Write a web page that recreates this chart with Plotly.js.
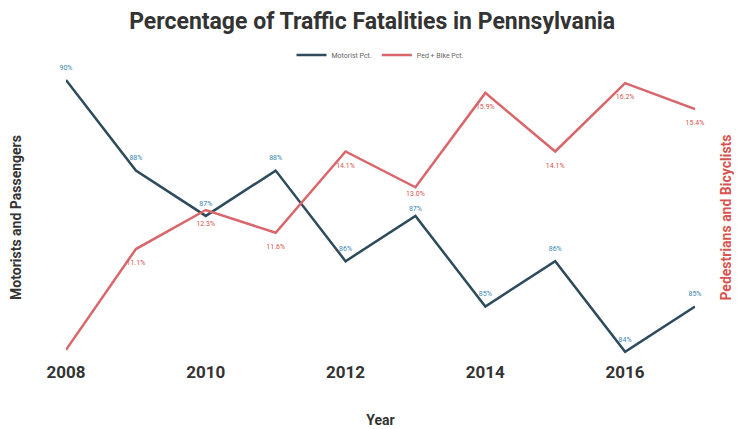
<!DOCTYPE html>
<html><head><meta charset="utf-8">
<script src="https://cdn.plot.ly/plotly-3.0.1.min.js"></script>
<style>html,body{margin:0;padding:0;background:#fff}#chart{width:737px;height:429px}</style>
</head><body><div id="chart"></div>
<script>
const years = [2008, 2009, 2010, 2011, 2012, 2013, 2014, 2015, 2016, 2017];
const motoristPct = [90.0, 88.0, 87.0, 88.0, 86.0, 87.0, 85.0, 86.0, 84.0, 85.0];
const pedBikePct = [8.0, 11.1, 12.3, 11.6, 14.1, 13.0, 15.9, 14.1, 16.2, 15.4];
const motoristLabels = ["90%", "88%", "87%", "88%", "86%", "87%", "85%", "86%", "84%", "85%"];
const pedBikeLabels = ["", "11.1%", "12.3%", "11.6%", "14.1%", "13.0%", "15.9%", "14.1%", "16.2%", "15.4%"];
const tickYears = [2008, 2010, 2012, 2014, 2016];

const traces = [
  {x: years, y: motoristPct, name: 'Motorist Pct.', type: 'scatter', mode: 'lines+markers+text',
   text: motoristLabels, textposition: 'top center',
   textfont: {size: 7, color: '#3b87b0', family: 'Roboto'},
   marker: {size: years.map(y => y === 2013 ? 3 : 12), color: 'rgba(0,0,0,0)', opacity: 0,
            line: {width: 0, color: 'rgba(0,0,0,0)'}},
   line: {color: '#2e4b5c', width: 2.5}, yaxis: 'y', cliponaxis: false},
  {x: years, y: pedBikePct, name: 'Ped + Bike Pct.', type: 'scatter', mode: 'lines+markers+text',
   text: pedBikeLabels, textposition: 'bottom center',
   textfont: {size: 7, color: '#d9534f', family: 'Roboto'},
   marker: {size: years.map(y => y === 2013 ? 4 : 16), color: 'rgba(0,0,0,0)', opacity: 0,
            line: {width: 0, color: 'rgba(0,0,0,0)'}},
   line: {color: '#d9666a', width: 2.5}, yaxis: 'y2', cliponaxis: false}
];

const layout = {
  width: 737, height: 429,
  margin: {l: 66, r: 42, t: 75, b: 69},
  paper_bgcolor: '#fff', plot_bgcolor: '#fff',
  font: {family: 'Roboto', color: '#333'},
  title: {text: '<b>Percentage of Traffic Fatalities in Pennsylvania</b>', x: 0.505, xanchor: 'center', y: 0.97,
          font: {size: 23, color: '#333', family: 'Roboto'}},
  showlegend: true,
  legend: {orientation: 'h', x: 0.5, xanchor: 'center', y: 1.07, yanchor: 'middle',
           font: {size: 7, color: '#666'}, itemwidth: 30},
  xaxis: {range: [2008, 2017], tickvals: tickYears, ticktext: tickYears.map(String),
          showgrid: false, zeroline: false, showline: false, ticks: '',
          tickfont: {size: 17, color: '#333', family: 'Roboto', weight: 'bold'},
          title: {text: '<b>Year</b>', font: {size: 14, color: '#333'}, standoff: 34}},
  yaxis: {range: [83.82, 90.11], showgrid: false, zeroline: false, showticklabels: false, ticks: '',
          title: {text: '<b>Motorists and Passengers</b>', font: {size: 14, color: '#333'}, standoff: 40}},
  yaxis2: {range: [7.69, 16.45], overlaying: 'y', side: 'right', showgrid: false, zeroline: false,
           showticklabels: false, ticks: '',
           title: {text: '<b>Pedestrians and Bicyclists</b>', font: {size: 14, color: '#d9534f'}, standoff: 26}}
};

Plotly.newPlot('chart', traces, layout, {displayModeBar: false, staticPlot: true});
</script></body></html>
